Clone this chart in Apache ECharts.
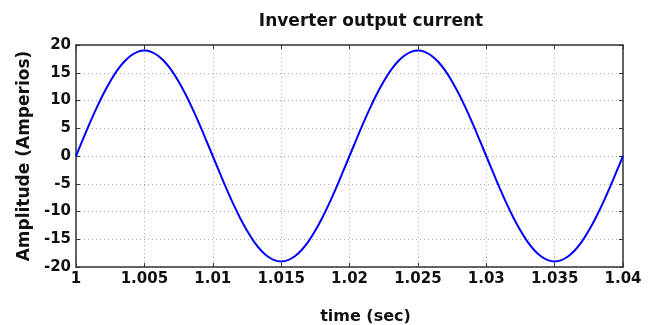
<!DOCTYPE html>
<html>
<head>
<meta charset="utf-8">
<script src="https://cdn.jsdelivr.net/npm/echarts@6/dist/echarts.min.js"></script>
<style>
  html, body { margin: 0; padding: 0; background: #fff; }
  #chart { width: 652px; height: 325px; }
</style>
</head>
<body>
<div id="chart"></div>
<script>
// values, one every 0.5 ms
const timeSec = [
  1.0000, 1.0005, 1.0010, 1.0015, 1.0020, 1.0025, 1.0030, 1.0035, 1.0040, 1.0045,
  1.0050, 1.0055, 1.0060, 1.0065, 1.0070, 1.0075, 1.0080, 1.0085, 1.0090, 1.0095,
  1.0100, 1.0105, 1.0110, 1.0115, 1.0120, 1.0125, 1.0130, 1.0135, 1.0140, 1.0145,
  1.0150, 1.0155, 1.0160, 1.0165, 1.0170, 1.0175, 1.0180, 1.0185, 1.0190, 1.0195,
  1.0200, 1.0205, 1.0210, 1.0215, 1.0220, 1.0225, 1.0230, 1.0235, 1.0240, 1.0245,
  1.0250, 1.0255, 1.0260, 1.0265, 1.0270, 1.0275, 1.0280, 1.0285, 1.0290, 1.0295,
  1.0300, 1.0305, 1.0310, 1.0315, 1.0320, 1.0325, 1.0330, 1.0335, 1.0340, 1.0345,
  1.0350, 1.0355, 1.0360, 1.0365, 1.0370, 1.0375, 1.0380, 1.0385, 1.0390, 1.0395,
  1.0400
];
const currentAmp = [
  0, 2.97, 5.87, 8.63, 11.17, 13.43, 15.37, 16.93, 18.07, 18.77,
  19, 18.77, 18.07, 16.93, 15.37, 13.43, 11.17, 8.63, 5.87, 2.97,
  0, -2.97, -5.87, -8.63, -11.17, -13.43, -15.37, -16.93, -18.07, -18.77,
  -19, -18.77, -18.07, -16.93, -15.37, -13.43, -11.17, -8.63, -5.87, -2.97,
  0, 2.97, 5.87, 8.63, 11.17, 13.43, 15.37, 16.93, 18.07, 18.77,
  19, 18.77, 18.07, 16.93, 15.37, 13.43, 11.17, 8.63, 5.87, 2.97,
  0, -2.97, -5.87, -8.63, -11.17, -13.43, -15.37, -16.93, -18.07, -18.77,
  -19, -18.77, -18.07, -16.93, -15.37, -13.43, -11.17, -8.63, -5.87, -2.97,
  0
];
const xTicks = { min: 1, max: 1.04, step: 0.005 };
const yTicks = { min: -20, max: 20, step: 5 };

const chart = echarts.init(document.getElementById('chart'));
const font = 'DejaVu Sans, sans-serif';
const labelStyle = { color: '#111', fontWeight: 'bold', fontSize: 15, fontFamily: font };
const axisLine = { show: true, onZero: false, lineStyle: { color: '#333', width: 1.5 } };
const tick = { show: true, inside: true, length: 4, lineStyle: { color: '#333' } };
const gridLine = { show: true, lineStyle: { color: '#aaa', type: [1, 3], width: 1 } };

chart.setOption({
  animation: false,
  title: {
    text: 'Inverter output current',
    left: 366, top: 8, textAlign: 'center',
    textStyle: { fontSize: 17, fontWeight: 'bold', fontFamily: font, color: '#111' }
  },
  grid: { left: 76, right: 29, top: 45, bottom: 58, outerBoundsMode: 'none' },
  xAxis: [{
    type: 'value', min: xTicks.min, max: xTicks.max, interval: xTicks.step,
    name: 'time (sec)', nameLocation: 'middle', nameGap: 42,
    nameTextStyle: Object.assign({}, labelStyle, { fontSize: 16, padding: [0, 0, 0, 32] }),
    axisLine: axisLine,
    axisTick: tick,
    axisLabel: Object.assign({}, labelStyle, {
      margin: 5,
      formatter: v => String(parseFloat(v.toFixed(3)))
    }),
    splitLine: gridLine
  }, {
    type: 'value', position: 'top', min: xTicks.min, max: xTicks.max, interval: xTicks.step,
    axisLine: axisLine, axisTick: tick,
    axisLabel: { show: false }, splitLine: { show: false }
  }],
  yAxis: [{
    type: 'value', min: yTicks.min, max: yTicks.max, interval: yTicks.step,
    name: 'Amplitude (Amperios)', nameLocation: 'middle', nameGap: 42,
    nameTextStyle: Object.assign({}, labelStyle, { fontSize: 17 }),
    axisLine: axisLine,
    axisTick: tick,
    axisLabel: Object.assign({}, labelStyle, { margin: 5 }),
    splitLine: gridLine
  }, {
    type: 'value', position: 'right', min: yTicks.min, max: yTicks.max, interval: yTicks.step,
    axisLine: axisLine, axisTick: tick,
    axisLabel: { show: false }, splitLine: { show: false }
  }],
  series: [{
    type: 'line',
    data: timeSec.map((t, i) => [t, currentAmp[i]]),
    smooth: 0.3,
    showSymbol: false,
    lineStyle: { color: '#0000ff', width: 2 }
  }]
});
</script>
</body>
</html>
